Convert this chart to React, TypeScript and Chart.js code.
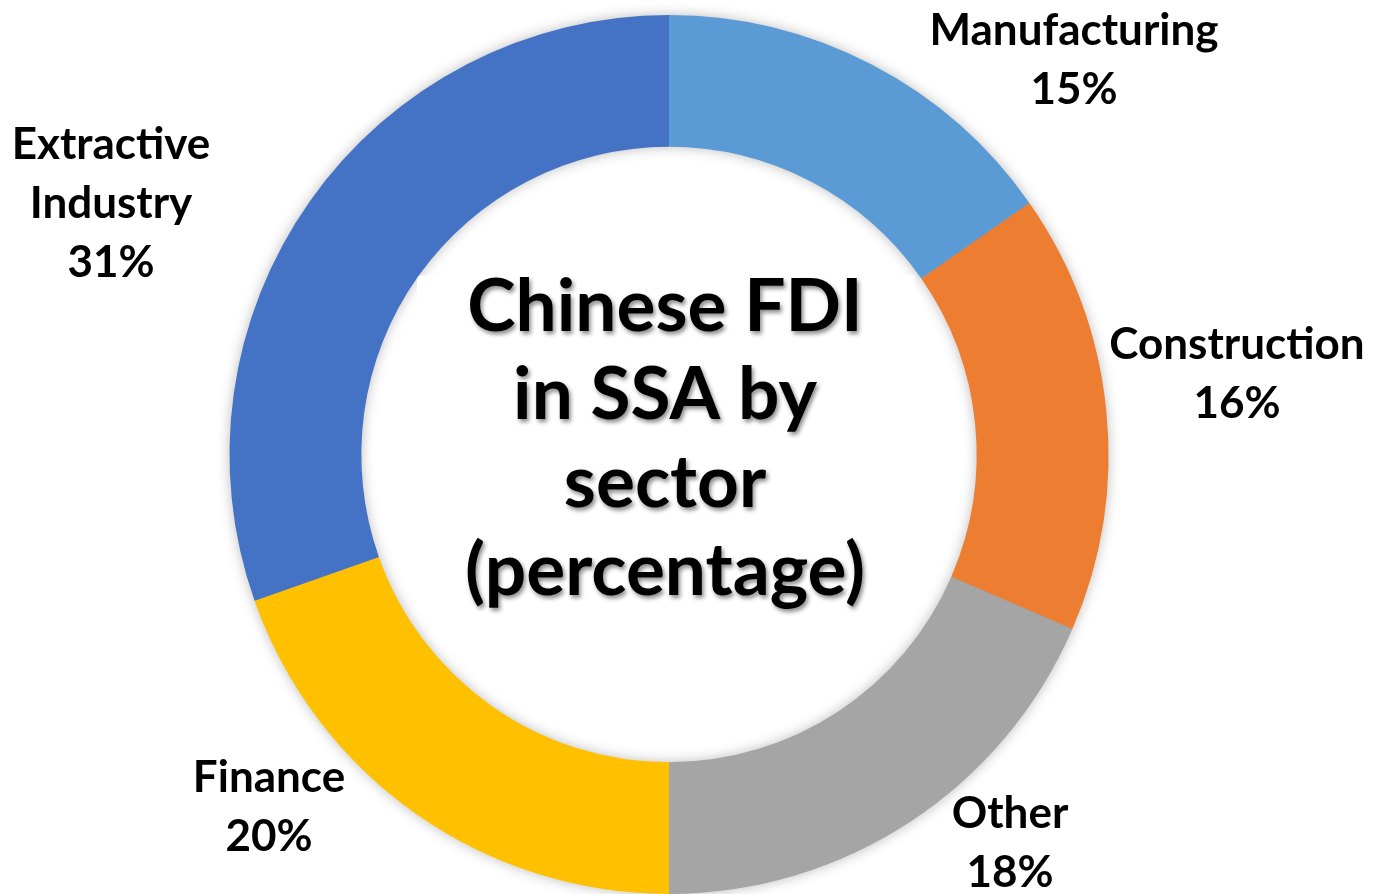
import React, { useEffect, useRef } from "react";
import { Chart, registerables } from "chart.js";

Chart.register(...registerables);

const sectors = ["Manufacturing", "Construction", "Other", "Finance", "Extractive Industry"];
// slice sizes as measured from the ring geometry
const shares = [15.3, 16.2, 18.5, 19.6, 30.4];
// percentages printed in the labels
const labelPercents = ["15%", "16%", "18%", "20%", "31%"];
const colors = ["#5B9BD5", "#ED7D31", "#A5A5A5", "#FFC000", "#4472C4"];
const titleLines = ["Chinese FDI", "in SSA by", "sector", "(percentage)"];

// label layout: first-line baseline offset relative to doughnut centre, and name lines
const labelLayout = [
  { dx: 405, dy: -410, lines: ["Manufacturing"] },
  { dx: 568, dy: -96, lines: ["Construction"] },
  { dx: 341, dy: 373, lines: ["Other"] },
  { dx: -400, dy: 337, lines: ["Finance"] },
  { dx: -558, dy: -296, lines: ["Extractive", "Industry"] },
];

const FONT = "Lato, 'Open Sans', sans-serif";

const decorPlugin = {
  id: "decor",
  beforeDatasetsDraw(chart: any) {
    const meta = chart.getDatasetMeta(0);
    const arc = meta.data[0];
    if (!arc) return;
    const { x, y, outerRadius, innerRadius } = arc.getProps(["x", "y", "outerRadius", "innerRadius"], true);
    const ctx = chart.ctx;
    ctx.save();
    ctx.shadowColor = "rgba(0,0,0,0.3)";
    ctx.shadowBlur = 14;
    ctx.fillStyle = "#999";
    ctx.beginPath();
    ctx.arc(x, y, outerRadius - 1, 0, Math.PI * 2);
    ctx.arc(x, y, innerRadius + 1, 0, Math.PI * 2, true);
    ctx.closePath();
    ctx.fill();
    ctx.restore();
    // centre white box (behind the ring)
    ctx.save();
    ctx.fillStyle = "#ffffff";
    ctx.fillRect(x - 252, y - 179, 498, 326);
    ctx.restore();
  },
  afterDatasetsDraw(chart: any) {
    const meta = chart.getDatasetMeta(0);
    const arc = meta.data[0];
    if (!arc) return;
    const { x, y } = arc.getProps(["x", "y"], true);
    const ctx = chart.ctx;
    ctx.save();
    ctx.font = `bold 73px ${FONT}`;
    ctx.textAlign = "center";
    ctx.textBaseline = "alphabetic";
    ctx.fillStyle = "#000";
    ctx.shadowColor = "rgba(0,0,0,0.45)";
    ctx.shadowBlur = 4;
    ctx.shadowOffsetX = 2;
    ctx.shadowOffsetY = 3;
    titleLines.forEach((t, i) => {
      ctx.fillText(t, x - 4, y - 124 + i * 88);
    });
    ctx.restore();

    // labels
    ctx.save();
    ctx.font = `bold 44px ${FONT}`;
    ctx.textAlign = "center";
    ctx.fillStyle = "#000";
    labelLayout.forEach((l, i) => {
      const lines = [...l.lines, labelPercents[i]];
      lines.forEach((t, j) => {
        ctx.fillText(t, x + l.dx, y + l.dy + j * 59);
      });
    });
    ctx.restore();
  },
};

export default function App() {
  const ref = useRef<HTMLCanvasElement | null>(null);
  useEffect(() => {
    if (!ref.current) return;
    const chart = new Chart(ref.current, {
      type: "doughnut",
      data: {
        labels: sectors,
        datasets: [
          {
            data: shares,
            backgroundColor: colors,
            borderWidth: 0,
            hoverOffset: 0,
          },
        ],
      },
      options: {
        responsive: false,
        animation: false,
        cutout: "70%",
        layout: { padding: { left: 228, right: 263, top: 15, bottom: -3 } },
        plugins: {
          legend: { display: false },
          tooltip: { enabled: false },
        },
      },
      plugins: [decorPlugin],
    });
    return () => chart.destroy();
  }, []);
  return (
    <div style={{ position: "absolute", left: 0, top: 0, width: 1373, height: 894, background: "#fff" }}>
      <canvas ref={ref} width={1373} height={894} />
    </div>
  );
}
